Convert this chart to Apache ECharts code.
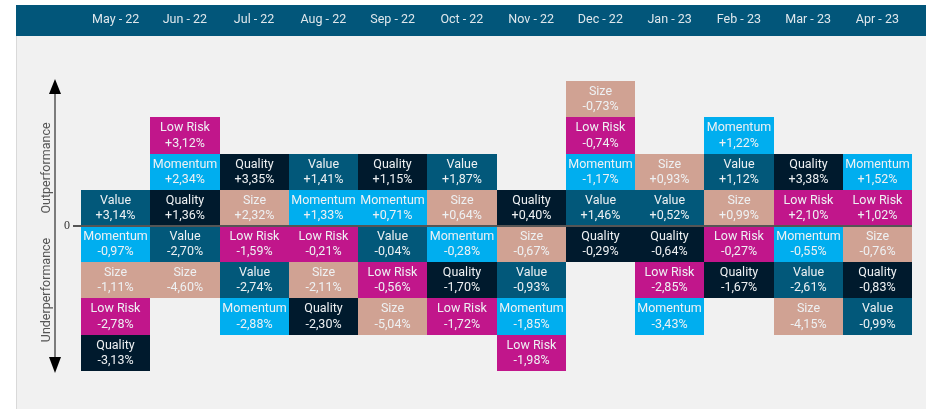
<!DOCTYPE html>
<html>
<head>
<meta charset="utf-8">
<script src="https://cdn.jsdelivr.net/npm/echarts@6/dist/echarts.min.js"></script>
<style>
  html, body { margin: 0; padding: 0; background: #fff; }
  #chart { width: 926px; height: 409px; }
</style>
</head>
<body>
<div id="chart"></div>
<script>
// months in the header
const months = ['May - 22', 'Jun - 22', 'Jul - 22', 'Aug - 22', 'Sep - 22', 'Oct - 22',
  'Nov - 22', 'Dec - 22', 'Jan - 23', 'Feb - 23', 'Mar - 23', 'Apr - 23'];

// factors in each column, top to bottom
const stacks = [
  ['Value', 'Momentum', 'Size', 'Low Risk', 'Quality'],
  ['Low Risk', 'Momentum', 'Quality', 'Value', 'Size'],
  ['Quality', 'Size', 'Low Risk', 'Value', 'Momentum'],
  ['Value', 'Momentum', 'Low Risk', 'Size', 'Quality'],
  ['Quality', 'Momentum', 'Value', 'Low Risk', 'Size'],
  ['Value', 'Size', 'Momentum', 'Quality', 'Low Risk'],
  ['Quality', 'Size', 'Value', 'Momentum', 'Low Risk'],
  ['Size', 'Low Risk', 'Momentum', 'Value', 'Quality'],
  ['Size', 'Value', 'Quality', 'Low Risk', 'Momentum'],
  ['Momentum', 'Value', 'Size', 'Low Risk', 'Quality'],
  ['Quality', 'Low Risk', 'Momentum', 'Value', 'Size'],
  ['Momentum', 'Low Risk', 'Size', 'Quality', 'Value']
];

// returns (%) in the same order
const stackReturns = [
  [3.14, -0.97, -1.11, -2.78, -3.13],
  [3.12, 2.34, 1.36, -2.70, -4.60],
  [3.35, 2.32, -1.59, -2.74, -2.88],
  [1.41, 1.33, -0.21, -2.11, -2.30],
  [1.15, 0.71, -0.04, -0.56, -5.04],
  [1.87, 0.64, -0.28, -1.70, -1.72],
  [0.40, -0.67, -0.93, -1.85, -1.98],
  [-0.73, -0.74, -1.17, 1.46, -0.29],
  [0.93, 0.52, -0.64, -2.85, -3.43],
  [1.22, 1.12, 0.99, -0.27, -1.67],
  [3.38, 2.10, -0.55, -2.61, -4.15],
  [1.52, 1.02, -0.76, -0.83, -0.99]
];

// how many cells of each column sit above the zero line
const rowsAbove = [1, 3, 2, 2, 2, 2, 1, 4, 2, 3, 2, 2];

const colors = {
  'Value': '#02587a',
  'Quality': '#001a2d',
  'Momentum': '#00aeef',
  'Low Risk': '#c1168b',
  'Size': '#d0a293'
};

const fmt = (v) => (v >= 0 ? '+' : '-') + Math.abs(v).toFixed(2).replace('.', ',') + '%';

const cells = [];
stacks.forEach((col, i) => {
  col.forEach((name, k) => {
    cells.push([i, rowsAbove[i] - k, stackReturns[i][k], name]);
  });
});

const chart = echarts.init(document.getElementById('chart'));

const option = {
  backgroundColor: '#ffffff',
  animation: false,
  grid: { left: 81, right: 14, top: 45, bottom: 2 },
  xAxis: {
    type: 'category',
    data: months,
    position: 'top',
    z: 10,
    axisLine: { show: false },
    axisTick: { show: false },
    splitLine: { show: false },
    axisLabel: {
      margin: 19,
      color: '#dfe7ec',
      fontFamily: 'Roboto',
      fontSize: 12.5
    }
  },
  yAxis: {
    type: 'value',
    min: -5,
    max: 5,
    show: false
  },
  graphic: [
    { type: 'rect', z: -10, shape: { x: 17, y: 36, width: 909, height: 373 }, style: { fill: '#f1f1f1' } },
    { type: 'line', z: -10, shape: { x1: 16.5, y1: 5, x2: 16.5, y2: 409 }, style: { stroke: '#d9d9d9', lineWidth: 1 } },
    { type: 'rect', z: -5, shape: { x: 16, y: 5, width: 910, height: 31 }, style: { fill: '#02567a' } },
    // vertical arrow
    { type: 'line', z: 5, shape: { x1: 55, y1: 92, x2: 55, y2: 360 }, style: { stroke: '#555', lineWidth: 1.5 } },
    { type: 'polygon', z: 5, shape: { points: [[55, 79], [49, 94], [61, 94]] }, style: { fill: '#000' } },
    { type: 'polygon', z: 5, shape: { points: [[55, 373], [49, 357], [61, 357]] }, style: { fill: '#000' } },
    { type: 'text', z: 5, x: 47, y: 168, rotation: Math.PI / 2,
      style: { text: 'Outperformance', fill: '#555', font: '12.5px Roboto', align: 'center', verticalAlign: 'middle' } },
    { type: 'text', z: 5, x: 47, y: 290, rotation: Math.PI / 2,
      style: { text: 'Underperformance', fill: '#555', font: '12.5px Roboto', align: 'center', verticalAlign: 'middle' } },
    { type: 'text', z: 5, x: 67, y: 226,
      style: { text: '0', fill: '#333', font: '12px "Liberation Serif"', align: 'center', verticalAlign: 'middle' } },
    { type: 'line', z: 5, shape: { x1: 73, y1: 226, x2: 81, y2: 226 }, style: { stroke: '#555', lineWidth: 2 } }
  ],
  series: [
    {
      type: 'custom',
      data: cells,
      renderItem: function (params, api) {
        const d = cells[params.dataIndex];
        const w = api.size([1, 0])[0];
        const p0 = api.coord([d[0], d[1]]);
        const p1 = api.coord([d[0], d[1] - 1]);
        const left = Math.round(p0[0] - w / 2);
        const right = Math.round(p0[0] + w / 2);
        const top = Math.round(p0[1]);
        const bottom = Math.round(p1[1]);
        return {
          type: 'group',
          children: [
            {
              type: 'rect',
              shape: { x: left, y: top, width: right - left, height: bottom - top },
              style: { fill: colors[d[3]] }
            },
            {
              type: 'text',
              style: {
                text: d[3] + '\n' + fmt(d[2]),
                x: (left + right) / 2,
                y: (top + bottom) / 2 + 0.5,
                align: 'center',
                verticalAlign: 'middle',
                lineHeight: 15.5,
                fill: '#eef1f3',
                font: '12.5px Roboto'
              }
            }
          ]
        };
      },
      markLine: {
        silent: true,
        symbol: 'none',
        z: 10,
        label: { show: false },
        lineStyle: { color: '#555', width: 2, type: 'solid' },
        data: [{ yAxis: 0 }]
      }
    }
  ]
};

option && chart.setOption(option);
</script>
</body>
</html>
